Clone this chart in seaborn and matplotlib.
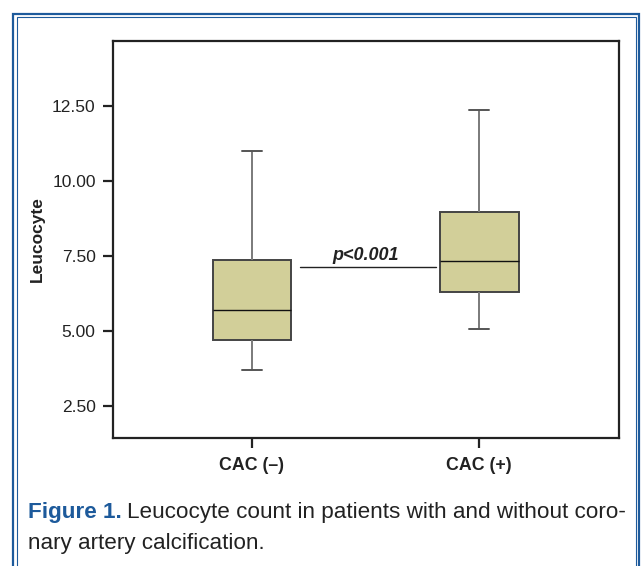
import matplotlib
matplotlib.use("Agg")
import matplotlib.pyplot as plt
import matplotlib.patches as mpatches
import numpy as np
import pandas as pd
import seaborn as sns

# ---- data (five-number summaries) ----
groups = ["CAC (\u2013)", "CAC (+)"]
cac_neg = [3.70, 4.70, 5.70, 7.35, 11.00]   # min, Q1, median, Q3, max
cac_pos = [5.07, 6.30, 7.32, 8.98, 12.37]
yticks = [2.5, 5.0, 7.5, 10.0, 12.5]
p_text = "p<0.001"
p_line_y = [7.13]
p_text_y = [7.37]

df = pd.DataFrame({
    "group": [groups[0]] * len(cac_neg) + [groups[1]] * len(cac_pos),
    "value": cac_neg + cac_pos,
})

sns.set_theme(style="white")
plt.rcParams["font.family"] = ["Liberation Sans", "DejaVu Sans"]

W, H, DPI = 643, 566, 100
fig = plt.figure(figsize=(W / DPI, H / DPI), dpi=DPI)
ax = fig.add_axes([113 / W, 1 - 438 / H, (619 - 113) / W, (438 - 41) / H])

box_w = 0.345
sns.boxplot(
    data=df, x="group", y="value", ax=ax, order=groups,
    whis=(0, 100), width=box_w, color="#d2cf99", saturation=1,
    linecolor="#444444", linewidth=1.3,
    boxprops=dict(edgecolor="#444444", linewidth=1.4),
    whiskerprops=dict(color="#7a7a7a", linewidth=1.4),
    capprops=dict(color="#555555", linewidth=1.4),
    medianprops=dict(color="#111111", linewidth=1.0),
    capwidths=0.088,
)

ax.set_xlim(-0.61, 1.614)
ax.set_ylim(1.43, 14.67)
ax.set_yticks(yticks)
ax.set_yticklabels([f"{v:.2f}" for v in yticks])
ax.tick_params(axis="both", which="major", direction="out", length=7.5,
               width=1.6, color="#222222", labelsize=12.5, labelcolor="#222222",
               left=True, bottom=True, pad=5)
ax.tick_params(axis="x", labelsize=12.8, pad=6)
for lab in ax.get_xticklabels():
    lab.set_fontweight("bold")
ax.set_xlabel("")
ax.set_ylabel("Leucocyte", fontsize=12.5, fontweight="bold", color="#222222")
for sp in ax.spines.values():
    sp.set_visible(True)
    sp.set_linewidth(1.6)
    sp.set_color("#222222")

# significance annotation between the two boxes
x0 = 0 + box_w / 2 + 0.04
x1 = 1 - box_w / 2 - 0.02
ax.plot([x0, x1], [p_line_y[0]] * 2, color="#222222", linewidth=1.0)
ax.text(0.5, p_text_y[0], p_text, ha="center", va="baseline", fontsize=13,
        fontweight="bold", fontstyle="italic", color="#222222")

ax.yaxis.set_label_coords(-(113 - 45) / (619 - 113), 0.5)

# double blue frame
blue = "#1d5a9b"
fig.patches.append(mpatches.Rectangle((13 / W, -0.05), (639 - 13) / W, 1 - 14 / H + 0.05,
                                      transform=fig.transFigure, fill=False,
                                      edgecolor=blue, linewidth=1.6, clip_on=False))
fig.patches.append(mpatches.Rectangle((16.5 / W, -0.05), (636 - 16.5) / W, 1 - 17.5 / H + 0.05,
                                      transform=fig.transFigure, fill=False,
                                      edgecolor=blue, linewidth=0.8, clip_on=False))

# caption
cap_size = 16.2
t1 = fig.text(28 / W, 1 - 518 / H, "Figure 1.", fontsize=cap_size, fontweight="bold",
              color=blue, ha="left", va="baseline")
fig.canvas.draw()
bb = t1.get_window_extent()
fig.text(bb.x1 / W + 5 / W, 1 - 518 / H, "Leucocyte count in patients with and without coro-",
         fontsize=cap_size, color="#222222", ha="left", va="baseline")
fig.text(28 / W, 1 - 549 / H, "nary artery calcification.", fontsize=cap_size,
         color="#222222", ha="left", va="baseline")

fig.savefig("out.png", dpi=DPI)
